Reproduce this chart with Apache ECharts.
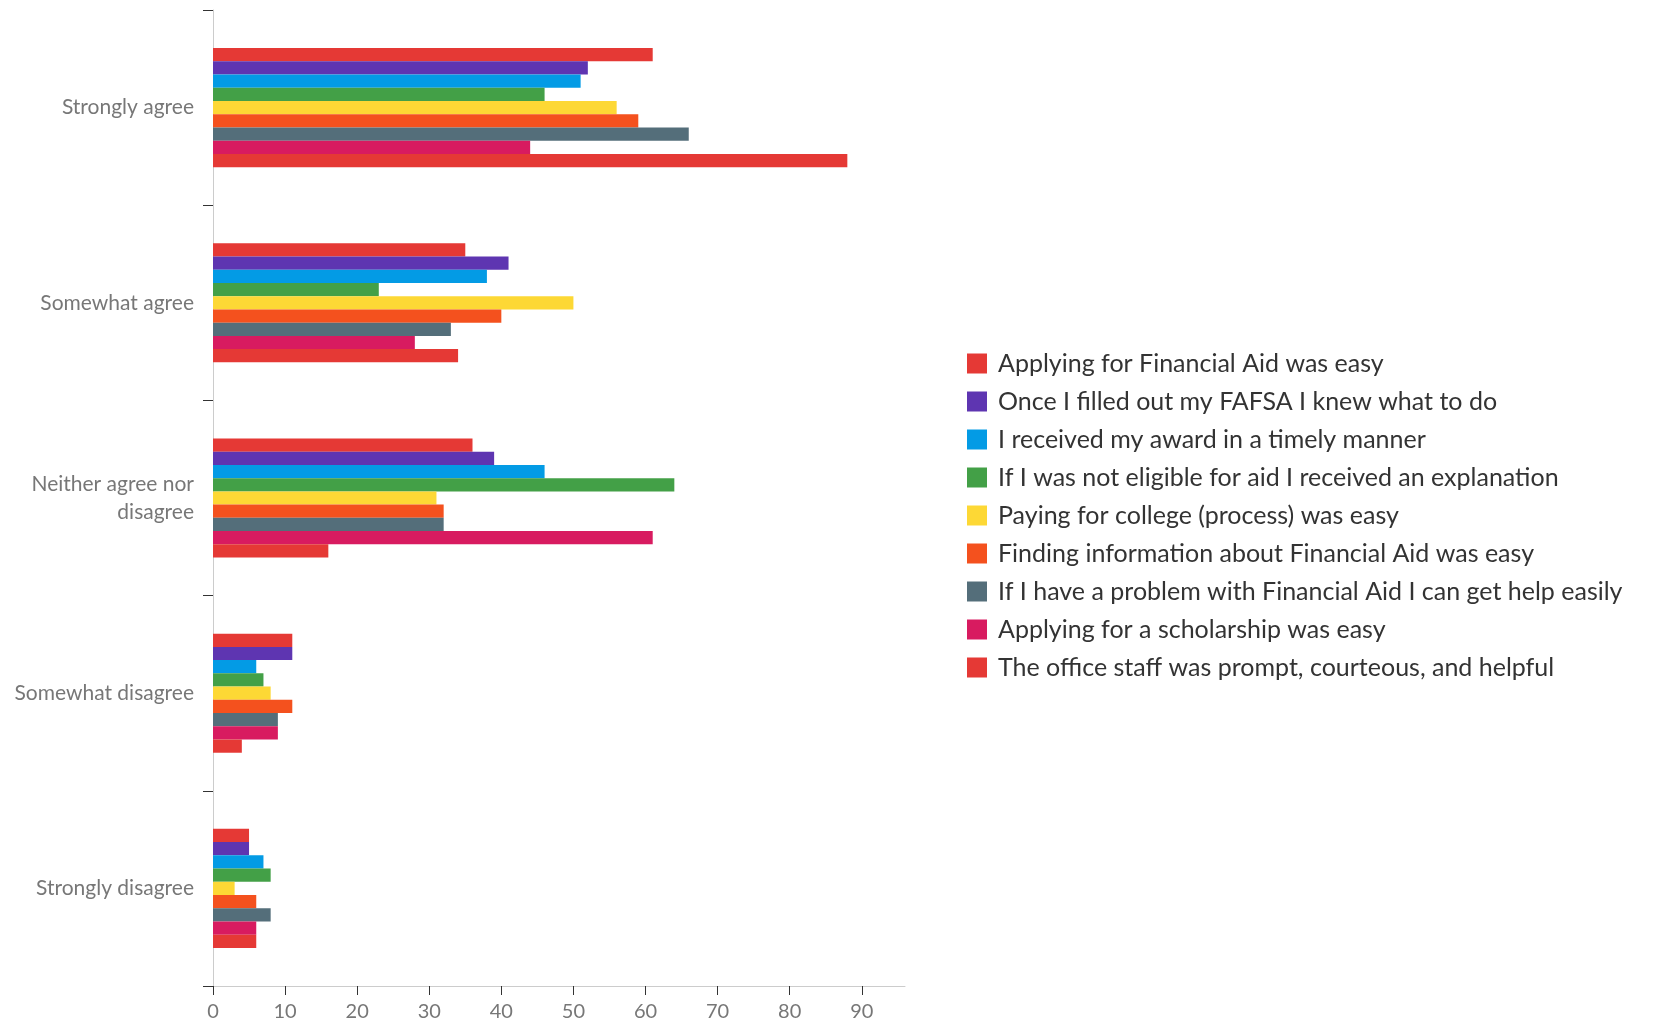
<!DOCTYPE html>
<html>
<head>
<meta charset="utf-8">
<script src="https://cdn.jsdelivr.net/npm/echarts@6/dist/echarts.min.js"></script>
<style>
  html, body { margin: 0; padding: 0; background: #fff; }
  #chart { width: 1653px; height: 1025px; }
</style>
</head>
<body>
<div id="chart"></div>
<script>
// categories, top to bottom
let categories = ['Strongly agree', 'Somewhat agree', 'Neither agree nor disagree', 'Somewhat disagree', 'Strongly disagree'];
let xTicks = [0, 10, 20, 30, 40, 50, 60, 70, 80, 90];

let seriesNames = [
  'Applying for Financial Aid was easy',
  'Once I filled out my FAFSA I knew what to do',
  'I received my award in a timely manner',
  'If I was not eligible for aid I received an explanation',
  'Paying for college (process) was easy',
  'Finding information about Financial Aid was easy',
  'If I have a problem with Financial Aid I can get help easily',
  'Applying for a scholarship was easy',
  'The office staff was prompt, courteous, and helpful'
];

// values per series, in category order
let applyingAid = [61, 35, 36, 11, 5];
let fafsa = [52, 41, 39, 11, 5];
let timelyAward = [51, 38, 46, 6, 7];
let notEligible = [46, 23, 64, 7, 8];
let payingCollege = [56, 50, 31, 8, 3];
let findingInfo = [59, 40, 32, 11, 6];
let getHelp = [66, 33, 32, 9, 8];
let scholarship = [44, 28, 61, 9, 6];
let officeStaff = [88, 34, 16, 4, 6];

let seriesData = [applyingAid, fafsa, timelyAward, notEligible, payingCollege, findingInfo, getHelp, scholarship, officeStaff];
let colors = ['#e53935', '#5e35b1', '#039be5', '#43a047', '#fdd835', '#f4511e', '#546e7a', '#d81b60', '#e53935'];

let series = [];
for (let i = 0; i < seriesNames.length; i++) {
  series.push({
    name: seriesNames[i],
    type: 'bar',
    barGap: '0%',
    barCategoryGap: '39%',
    itemStyle: { color: colors[i] },
    data: seriesData[i]
  });
}

let option = {
  animation: false,
  textStyle: { fontFamily: 'Lato' },
  grid: {
    left: 213,
    top: 10,
    right: 748,
    bottom: 39
  },
  legend: {
    orient: 'vertical',
    left: 962,
    top: 346,
    icon: 'rect',
    itemWidth: 20,
    itemHeight: 20,
    itemGap: 13,
    textStyle: {
      fontSize: 25,
      color: '#333',
      padding: [0, 0, 0, 6]
    },
    data: seriesNames
  },
  xAxis: {
    type: 'value',
    min: 0,
    max: 96,
    interval: 10,
    splitLine: { show: false },
    axisLine: { show: true, lineStyle: { color: '#ccc' } },
    axisTick: { show: true, length: 9, customValues: xTicks, lineStyle: { color: '#333' } },
    axisLabel: { customValues: xTicks, fontSize: 20, color: '#777', margin: 16 }
  },
  yAxis: {
    type: 'category',
    inverse: true,
    data: categories,
    axisLine: { show: true, lineStyle: { color: '#ccc' } },
    axisTick: { show: true, length: 10, lineStyle: { color: '#333' } },
    axisLabel: {
      fontSize: 21,
      color: '#777',
      margin: 19,
      lineHeight: 28,
      formatter: function (v) { return v.replace('nor ', 'nor\n'); }
    }
  },
  series: series
};

let myChart = echarts.init(document.getElementById('chart'));
myChart.setOption(option);
</script>
</body>
</html>
